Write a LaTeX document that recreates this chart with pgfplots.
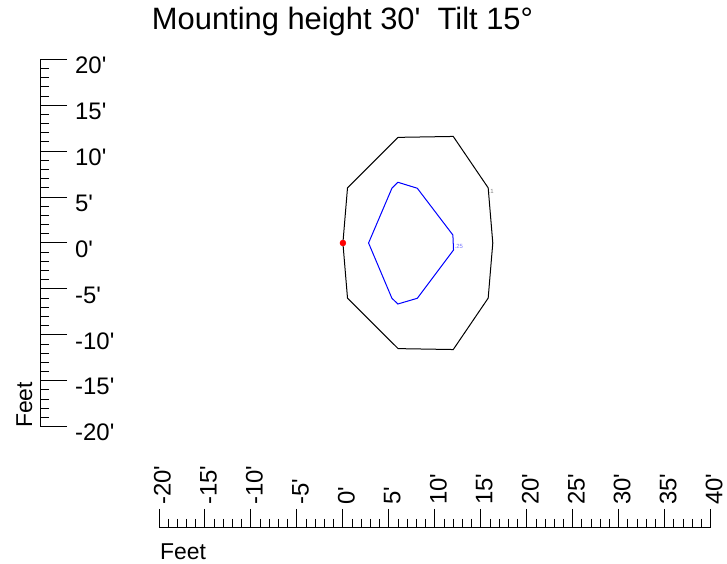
\documentclass[border=0pt]{standalone}
\usepackage{pgfplots}
\pgfplotsset{compat=1.18}
\usepackage{fontspec}
\setmainfont{Liberation Sans}[Ligatures=TeXOff]
\definecolor{lblblue}{RGB}{120,120,255}
\begin{document}
\begin{tikzpicture}[x=1bp,y=1bp]
\path[use as bounding box] (0,0) rectangle (727,564);
\node[anchor=base, font=\fontsize{31}{33}\selectfont, inner sep=0] at (342.5,534.7) {Mounting height 30'~~Tilt 15°};
\node[anchor=base west, rotate=90, font=\fontsize{23}{25}\selectfont, inner sep=0] at (32,136) {Feet};
\node[anchor=base west, font=\fontsize{23}{25}\selectfont, inner sep=0] at (160,4.7) {Feet};
% data
\begin{axis}[at={(159bp,137.3bp)}, anchor=south west, width=551.7bp, height=367.4bp, scale only axis,
  xmin=-20, xmax=40, ymin=-20, ymax=20, hide axis, clip=false]
\addplot[black, line width=1bp] coordinates {(6,11.5) (12,11.6) (15.8,6) (16.3,0) (15.8,-6) (12,-11.6) (6,-11.5) (0.5,-6) (0,0) (0.5,6) (6,11.5)};
\addplot[blue, line width=1bp] coordinates {(5.98,6.61) (8.09,5.96) (11.96,0.87) (12.03,-0.76) (8.09,-6.02) (5.98,-6.64) (5.33,-6.02) (2.79,0) (5.33,5.96) (5.98,6.61)};
\addplot[only marks, mark=*, red, mark size=3bp] coordinates {(0,0)};
\node[anchor=west, inner sep=0, font=\fontsize{6}{7}\selectfont, text=gray] at (axis cs:15.84,5.66) {.1};
\node[anchor=west, inner sep=0, font=\fontsize{6}{7}\selectfont, text=lblblue] at (axis cs:12.14,-0.4) {.25};
\end{axis}
% y ruler
\begin{axis}[at={(40bp,137.3bp)}, anchor=south east, width=10bp, height=367.4bp, scale only axis,
  xmin=0, xmax=1, ymin=-20, ymax=20, axis x line=none, axis y line*=right,
  axis line style={black, line width=1bp}, tick style={black, line width=1bp},
  ytick={-20,-15,...,20}, minor y tick num=4, tick align=outside,
  major tick length=27bp, minor tick length=9bp,
  yticklabels={-20',-15',-10',-5',0',5',10',15',20'},
  yticklabel style={anchor=west, inner sep=0, font=\fontsize{24}{26}\selectfont, xshift=8bp, yshift=-6bp}]
\end{axis}
% x ruler
\begin{axis}[at={(159bp,36bp)}, anchor=north west, width=551.7bp, height=10bp, scale only axis,
  xmin=-20, xmax=40, ymin=0, ymax=1, axis y line=none, axis x line*=top,
  axis line style={black, line width=1bp}, tick style={black, line width=1bp},
  xtick={-20,-15,...,40}, minor x tick num=4, tick align=outside,
  major tick length=19bp, minor tick length=9bp,
  xticklabels={-20',-15',-10',-5',0',5',10',15',20',25',30',35',40'},
  xticklabel style={xshift=3.5bp, yshift=4bp, rotate=90, anchor=west, inner sep=0, font=\fontsize{24}{26}\selectfont}]
\end{axis}
\end{tikzpicture}
\end{document}
